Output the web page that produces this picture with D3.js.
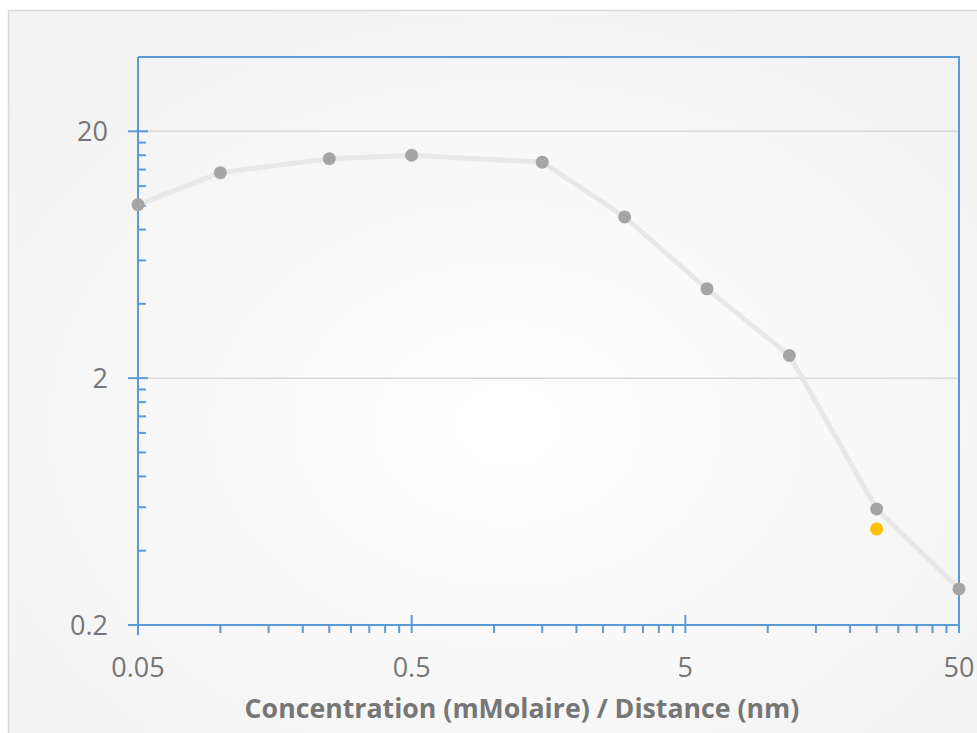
<!DOCTYPE html>
<html>
<head>
<meta charset="utf-8">
<script src="https://cdn.jsdelivr.net/npm/d3@7"></script>
<style>
  body { margin: 0; background: #fff; }
  text { font-family: "Open Sans", sans-serif; fill: #767676; }
</style>
</head>
<body>
<div id="chart"></div>
<script>
var W = 977, H = 733;
var margin = {top: 57, right: 18, bottom: 108, left: 138},
    width = W - margin.left - margin.right,
    height = H - margin.top - margin.bottom;

// data
var xValues = [0.05, 0.1, 0.25, 0.5, 1.5, 3, 6, 12, 25, 50];
var yValues = [10.1, 13.6, 15.5, 16.0, 15.0, 9.0, 4.6, 2.47, 0.59, 0.28];
var extraX = [25];
var extraY = [0.49];
var xTicks = [0.05, 0.5, 5, 50];
var yTicks = [0.2, 2, 20];
var xTitle = "Concentration (mMolaire) / Distance (nm)";

var svg = d3.select("#chart").append("svg")
    .attr("width", W)
    .attr("height", H);

var defs = svg.append("defs");
var grad = defs.append("radialGradient")
    .attr("id", "bg")
    .attr("cx", "50%").attr("cy", "55%").attr("r", "65%");
grad.append("stop").attr("offset", "0%").attr("stop-color", "#ffffff");
grad.append("stop").attr("offset", "100%").attr("stop-color", "#f2f2f2");

svg.append("rect")
    .attr("x", 8.5).attr("y", 10.5)
    .attr("width", W + 20).attr("height", H + 20)
    .style("fill", "url(#bg)")
    .style("stroke", "#d9d9d9")
    .style("stroke-width", 1.5);

var x = d3.scaleLog().domain([0.05, 50]).range([margin.left, margin.left + width]);
var y = d3.scaleLog().domain([0.2, 40]).range([margin.top + height, margin.top]);

// minor ticks: k * 10^n * base, like the spreadsheet log axis
function minorTicks(start, decades) {
  var out = [];
  for (var d = 0; d < decades; d++) {
    var b = start * Math.pow(10, d);
    for (var k = 2; k <= 9; k++) out.push(b * k);
  }
  return out;
}
var xMinor = minorTicks(0.05, 3);
var yMinor = minorTicks(0.2, 3).filter(function(v) { return v < 40; });

var axisColor = "#5b9bd5";

// gridlines
svg.append("g").selectAll("line")
    .data(yTicks.slice(1))
    .enter().append("line")
    .attr("x1", margin.left).attr("x2", margin.left + width)
    .attr("y1", function(d) { return y(d); })
    .attr("y2", function(d) { return y(d); })
    .style("stroke", "#d9d9d9")
    .style("stroke-width", 1.5);

// plot frame (top + right)
svg.append("path")
    .attr("d", "M" + margin.left + "," + margin.top + "H" + (margin.left + width) + "V" + (margin.top + height))
    .style("fill", "none")
    .style("stroke", axisColor)
    .style("stroke-width", 2);

// x axis
var gx = svg.append("g")
    .attr("transform", "translate(0," + (margin.top + height) + ")");
gx.append("line")
    .attr("x1", margin.left - 10).attr("x2", margin.left + width)
    .style("stroke", axisColor).style("stroke-width", 2);
gx.selectAll(".minor").data(xMinor).enter().append("line")
    .attr("class", "minor")
    .attr("x1", function(d) { return x(d); }).attr("x2", function(d) { return x(d); })
    .attr("y1", 0).attr("y2", 8)
    .style("stroke", axisColor).style("stroke-width", 2);
gx.selectAll(".major").data(xTicks).enter().append("line")
    .attr("class", "major")
    .attr("x1", function(d) { return x(d); }).attr("x2", function(d) { return x(d); })
    .attr("y1", -10).attr("y2", 8)
    .style("stroke", axisColor).style("stroke-width", 2);
gx.selectAll(".lbl").data(xTicks).enter().append("text")
    .attr("class", "lbl")
    .attr("x", function(d) { return x(d); })
    .attr("y", 52)
    .style("text-anchor", "middle")
    .style("font-size", "27px")
    .text(function(d) { return d; });

// y axis
var gy = svg.append("g")
    .attr("transform", "translate(" + margin.left + ",0)");
gy.append("line")
    .attr("y1", margin.top).attr("y2", margin.top + height + 10)
    .style("stroke", axisColor).style("stroke-width", 2);
gy.selectAll(".minor").data(yMinor).enter().append("line")
    .attr("class", "minor")
    .attr("y1", function(d) { return y(d); }).attr("y2", function(d) { return y(d); })
    .attr("x1", 0).attr("x2", 8)
    .style("stroke", axisColor).style("stroke-width", 2);
gy.selectAll(".major").data(yTicks).enter().append("line")
    .attr("class", "major")
    .attr("y1", function(d) { return y(d); }).attr("y2", function(d) { return y(d); })
    .attr("x1", -10).attr("x2", 10)
    .style("stroke", axisColor).style("stroke-width", 2);
gy.selectAll(".lbl").data(yTicks).enter().append("text")
    .attr("class", "lbl")
    .attr("x", -30)
    .attr("y", function(d) { return y(d) + 9.5; })
    .style("text-anchor", "end")
    .style("font-size", "27px")
    .text(function(d) { return d; });

// axis title
var title = svg.append("text")
    .attr("x", 522)
    .attr("y", 718)
    .style("text-anchor", "middle")
    .style("font-weight", 700)
    .style("font-size", "26px")
    .text(xTitle);
var tw = title.node().getComputedTextLength();
title.style("font-size", (26 * 555 / tw) + "px");

// series
var pts = xValues.map(function(v, i) { return [v, yValues[i]]; });
var line = d3.line()
    .x(function(d) { return x(d[0]); })
    .y(function(d) { return y(d[1]); });

svg.append("path")
    .datum(pts)
    .attr("d", line)
    .style("fill", "none")
    .style("stroke", "#e8e8e8")
    .style("stroke-width", 5)
    .style("stroke-linejoin", "round");

svg.append("g").selectAll("circle")
    .data(pts)
    .enter().append("circle")
    .attr("cx", function(d) { return x(d[0]); })
    .attr("cy", function(d) { return y(d[1]); })
    .attr("r", 6.5)
    .style("fill", "#a5a5a5");

svg.append("g").selectAll("circle")
    .data(extraX.map(function(v, i) { return [v, extraY[i]]; }))
    .enter().append("circle")
    .attr("cx", function(d) { return x(d[0]); })
    .attr("cy", function(d) { return y(d[1]); })
    .attr("r", 6.5)
    .style("fill", "#ffc000");
</script>
</body>
</html>
